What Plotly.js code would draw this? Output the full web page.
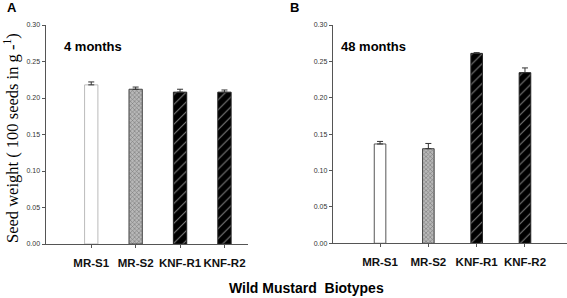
<!DOCTYPE html>
<html><head><meta charset="utf-8">
<script src="https://cdn.plot.ly/plotly-3.0.1.min.js"></script>
<style>html,body{margin:0;padding:0;background:#fff;}#chart{width:567px;height:298px;}</style>
</head><body><div id="chart"></div>
<script>
const categories = ["MR-S1", "MR-S2", "KNF-R1", "KNF-R2"];
const weight4 = [0.218, 0.212, 0.208, 0.208];
const err4 = [0.004, 0.003, 0.004, 0.003];
const weight48 = [0.1365, 0.130, 0.261, 0.2345];
const err48 = [0.0035, 0.0072, 0.001, 0.0065];
const yTicks = [0, 0.05, 0.10, 0.15, 0.20, 0.25, 0.30];
const yTickText = ["0.00", "0.05", "0.10", "0.15", "0.20", "0.25", "0.30"];

const W = 567, H = 298;
const px = v => v / W, py = v => 1 - v / H;

const styles = [
  {color: "#ffffff", line: "#bbbbbb", pattern: null},
  {color: "#b8b8b8", line: "#444444", pattern: {shape: "x", fgcolor: "#3a3a3a", size: 3, solidity: 0.35, fillmode: "overlay"}},
  {color: "#000000", line: "#222222", pattern: {shape: "/", fgcolor: "#ffffff", size: 7, solidity: 0.15, fillmode: "overlay"}},
  {color: "#000000", line: "#222222", pattern: {shape: "/", fgcolor: "#ffffff", size: 7, solidity: 0.15, fillmode: "overlay"}}
];

const data = [];
function addPanel(vals, errs, xa, ya, width, s1line) {
  categories.forEach((c, i) => {
    const st = styles[i];
    const marker = {color: st.color, line: {color: i === 0 ? s1line : st.line, width: 1}};
    if (st.pattern) marker.pattern = st.pattern;
    data.push({
      type: "bar", x: [c], y: [vals[i]], xaxis: xa, yaxis: ya, width: width, marker: marker,
      error_y: {type: "data", array: [errs[i]], arrayminus: [0], symmetric: false,
                color: "#333333", thickness: 1, width: 3},
      hoverinfo: "skip", showlegend: false
    });
  });
}
addPanel(weight4, err4, "x", "y", 0.30, "#bbbbbb");
addPanel(weight48, err48, "x2", "y2", 0.24, "#555555");

const xCommon = {
  type: "category", categoryarray: categories, categoryorder: "array",
  showgrid: false, zeroline: false, showline: true,
  linecolor: "#555555", linewidth: 1, ticks: "outside", ticklen: 3, tickcolor: "#555555",
  tickangle: 0,
  tickfont: {family: "Arial, Liberation Sans, sans-serif", size: 11.5, color: "#111111", weight: "bold"},
  ticklabelstandoff: 5, fixedrange: true
};
const yCommon = {
  range: [0, 0.30], tickvals: yTicks, ticktext: yTickText, showgrid: false, zeroline: false,
  showline: true, linecolor: "#555555", linewidth: 1, ticks: "outside", ticklen: 3,
  tickcolor: "#555555", tickfont: {family: "Arial, Liberation Sans, sans-serif", size: 7, color: "#333333"},
  ticklabelstandoff: 0, fixedrange: true
};

const ann = (text, x, y, size, extra) => Object.assign({
  text: text, xref: "paper", yref: "paper", x: px(x), y: py(y), xanchor: "center", yanchor: "middle",
  showarrow: false, font: {family: "Arial, Liberation Sans, sans-serif", size: size, color: "#000"}
}, extra || {});

const layout = {
  width: W, height: H, margin: {l: 0, r: 0, t: 0, b: 0},
  paper_bgcolor: "#ffffff", plot_bgcolor: "#ffffff", barmode: "overlay",
  xaxis: Object.assign({}, xCommon, {domain: [px(45.5), px(248)], range: [-1.03, 3.53], anchor: "y"}),
  yaxis: Object.assign({}, yCommon, {domain: [py(244), py(25)], anchor: "x"}),
  xaxis2: Object.assign({}, xCommon, {domain: [px(332.7), px(567)], range: [-0.98, 3.87], anchor: "y2"}),
  yaxis2: Object.assign({}, yCommon, {domain: [py(243.3), py(25)], anchor: "x2"}),
  annotations: [
    ann("<b>A</b>", 12, 8, 13),
    ann("<b>B</b>", 294, 8, 13),
    ann("<b>4 months</b>", 62, 46, 13, {xanchor: "left"}),
    ann("<b>48 months</b>", 339, 46, 13, {xanchor: "left"}),
    ann("<b>Wild Mustard  Biotypes</b>", 306, 288, 14),
    ann("Seed weight ( 100 seeds in g -<sup>1</sup>)", 11, 138, 16.5,
        {textangle: -90, font: {family: "Times New Roman, Liberation Serif, serif", size: 16.5, color: "#000"}})
  ]
};

Plotly.newPlot("chart", data, layout, {staticPlot: true, displayModeBar: false});
</script>
</body></html>
